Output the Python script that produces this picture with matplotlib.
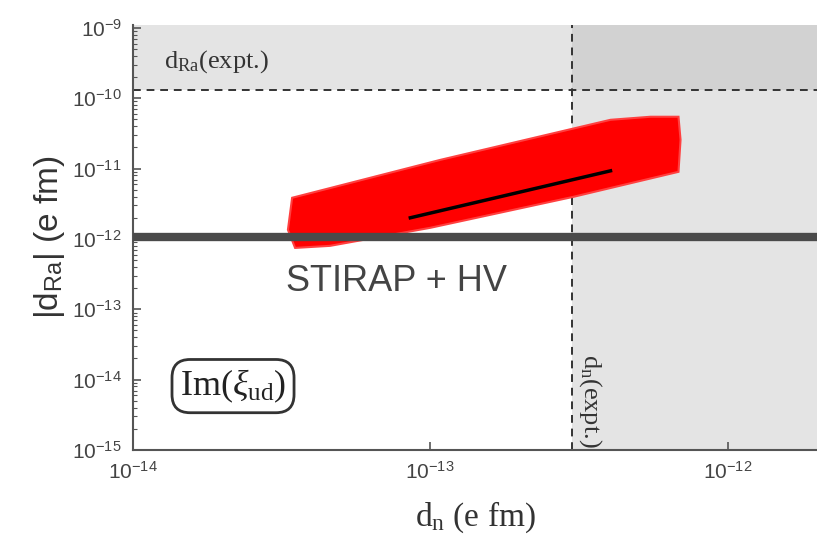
import matplotlib.pyplot as plt
import matplotlib.ticker as mticker
import numpy as np

plt.rcParams['mathtext.fontset'] = 'custom'
plt.rcParams['mathtext.rm'] = 'Liberation Serif'
plt.rcParams['mathtext.it'] = 'Liberation Serif:italic'
plt.rcParams['mathtext.sf'] = 'Liberation Sans'

# axis ranges (e fm)
x_range = [1e-14, 2.0e-12]
y_range = [1e-15, 1.1e-9]

# experimental limits
dn_expt = 3.0e-13
dra_expt = 1.3e-10
stirap_hv = 1.05e-12

# outline of the red scatter band (d_n, |d_Ra|)
band_dn = [3.43e-14, 1.08e-13, 4.04e-13, 5.51e-13, 6.84e-13, 6.95e-13,
           6.84e-13, 3.03e-13, 1.0e-13, 4.6e-14, 3.51e-14, 3.32e-14]
band_dra = [3.85e-12, 1.33e-11, 4.94e-11, 5.46e-11, 5.46e-11, 2.57e-11,
            9.0e-12, 3.97e-12, 1.44e-12, 7.98e-13, 7.46e-13, 1.35e-12]

# black central line
line_dn = [8.57e-14, 4.04e-13]
line_dra = [2.0e-12, 9.3e-12]

x_ticks = [1e-14, 1e-13, 1e-12]
y_ticks = [1e-15, 1e-14, 1e-13, 1e-12, 1e-11, 1e-10, 1e-9]

fig = plt.figure(figsize=(8.17, 5.48), dpi=100)
ax = fig.add_axes([0.1628, 0.1788, 0.8372, 0.7756])
ax.set_xscale('log')
ax.set_yscale('log')
ax.set_xlim(x_range)
ax.set_ylim(y_range)

# shaded excluded regions
light = '#e4e4e4'
dark = '#d2d2d2'
ax.fill_between([x_range[0], x_range[1]], dra_expt, y_range[1], color=light, lw=0, zorder=0)
ax.fill_between([dn_expt, x_range[1]], y_range[0], y_range[1], color=light, lw=0, zorder=0)
ax.fill_between([dn_expt, x_range[1]], dra_expt, y_range[1], color=dark, lw=0, zorder=0)

ax.axhline(dra_expt, color='#333333', ls=(0, (4, 3)), lw=1.4, zorder=1)
ax.axvline(dn_expt, color='#333333', ls=(0, (4, 3)), lw=1.4, zorder=1)

# red band and its central line
ax.fill(band_dn, band_dra, color='#ff0000', ec='#ff4040', lw=1.5, zorder=2)
ax.plot(line_dn, line_dra, color='black', lw=2.5, zorder=3)

# STIRAP + HV sensitivity
ax.axhline(stirap_hv, color='#4a4a4a', lw=6, zorder=4)
ax.text(7.7e-14, 2.5e-13, 'STIRAP + HV', family='Liberation Sans', fontsize=26,
        color='#444444', ha='center', va='center')

ax.text(1.27e-14, 3.3e-10, r'd$_{\mathrm{Ra}}$(expt.)', family='Liberation Serif',
        fontsize=19, color='#333333', ha='left', va='center')
ax.text(3.45e-13, 5.0e-15, r'd$_{\mathrm{n}}$(expt.)', family='Liberation Serif',
        fontsize=19, color='#333333', ha='center', va='center', rotation=-90)
ax.text(2.17e-14, 8.1e-15, r'Im($\xi_{\mathrm{ud}}$)', family='Liberation Serif',
        fontsize=26, color='#222222', ha='center', va='center',
        bbox=dict(boxstyle='round,pad=0.22,rounding_size=0.5', fc='white',
                  ec='#333333', lw=2))

# axes styling
for side in ['top', 'right']:
    ax.spines[side].set_visible(False)
for side in ['left', 'bottom']:
    ax.spines[side].set_color('#555555')
    ax.spines[side].set_linewidth(1.5)

fmt = mticker.FuncFormatter(lambda v, p: r'$\mathsf{10^{%d}}$' % round(np.log10(v)))
ax.xaxis.set_major_locator(mticker.FixedLocator(x_ticks))
ax.yaxis.set_major_locator(mticker.FixedLocator(y_ticks))
ax.xaxis.set_major_formatter(fmt)
ax.yaxis.set_major_formatter(fmt)
ax.xaxis.set_minor_locator(mticker.NullLocator())
ax.yaxis.set_minor_locator(mticker.LogLocator(base=10, subs=np.arange(2, 10)))
ax.yaxis.set_minor_formatter(mticker.NullFormatter())
ax.tick_params(which='both', direction='in', color='#555555', labelcolor='#444444',
               labelsize=15)
ax.tick_params(which='major', length=6, width=1.2)
ax.tick_params(which='minor', length=3, width=0.8)
ax.tick_params(axis='y', pad=8)
ax.tick_params(axis='x', pad=8)

ax.set_xlabel(r'd$_{\mathrm{n}}$ (e fm)', family='Liberation Serif', fontsize=24,
              color='#333333', labelpad=12)
ax.set_ylabel(r'|d$_{\mathsf{Ra}}$| (e fm)', family='Liberation Sans', fontsize=24,
              color='#333333', labelpad=4)

fig.savefig('out.png', dpi=100)
